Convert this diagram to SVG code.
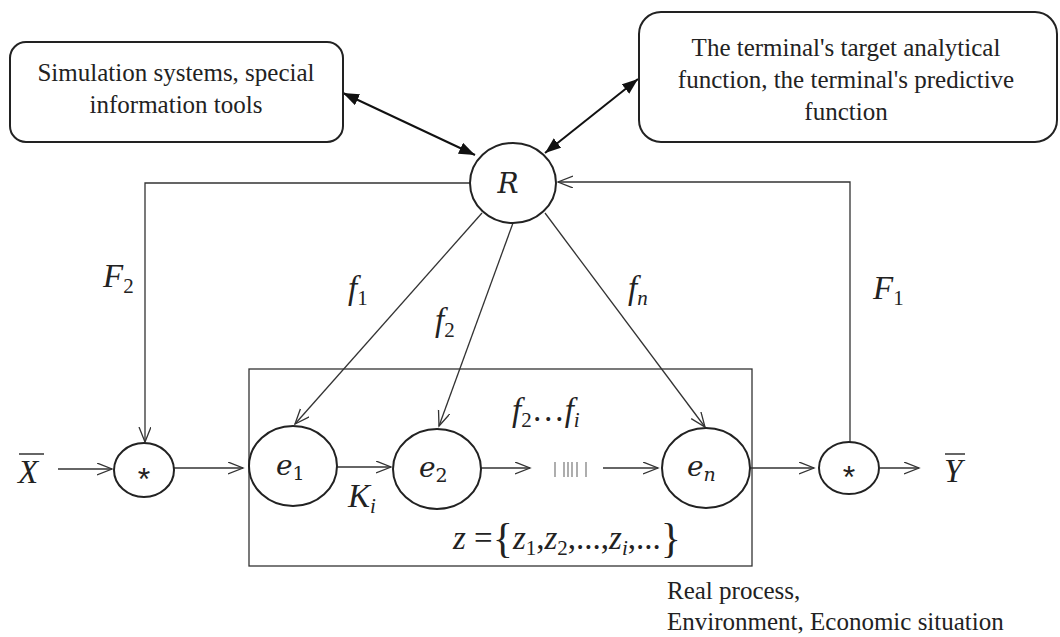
<svg xmlns="http://www.w3.org/2000/svg" width="1060" height="637" viewBox="0 0 1060 637">
<defs>
<style>
.box{fill:#fff;stroke:#222;stroke-width:2}
.node{fill:#fff;stroke:#222;stroke-width:2}
.frame{fill:none;stroke:#333;stroke-width:1.3}
.line{fill:none;stroke:#333;stroke-width:1.3}
.bold{fill:none;stroke:#111;stroke-width:2}
.txt{font-family:"Liberation Serif","Times New Roman",serif;font-size:25px;fill:#222}
.math{font-family:"Liberation Serif","Times New Roman",serif;font-size:33px;font-style:italic;fill:#222}
.emath{font-family:"DejaVu Serif",serif;font-size:28px;font-style:italic;fill:#222}
.sub{font-size:21px}
.esub{font-size:19px}
.up{font-style:normal}
.star{font-family:"Liberation Sans",Arial,sans-serif;font-size:32px;fill:#222}
</style>
<marker id="open" markerUnits="userSpaceOnUse" markerWidth="18" markerHeight="14" refX="15" refY="6" orient="auto">
<path d="M0,0 L15,6 L0,12" fill="none" stroke="#333" stroke-width="1.3"/>
</marker>
<marker id="solid" markerUnits="userSpaceOnUse" markerWidth="18" markerHeight="14" refX="16" refY="6" orient="auto-start-reverse">
<path d="M0,0 L16,6 L0,12 Z" fill="#111"/>
</marker>
</defs>
<rect width="1060" height="637" fill="#fff"/>

<g id="connectors">
<line class="bold" x1="343" y1="93" x2="475" y2="155" marker-start="url(#solid)" marker-end="url(#solid)"/>
<line class="bold" x1="638" y1="79" x2="545" y2="153" marker-start="url(#solid)" marker-end="url(#solid)"/>
<polyline class="line" points="470,183 145,183 145,442" marker-end="url(#open)"/>
<polyline class="line" points="850,442 850,182 558,182" marker-end="url(#open)"/>
<line class="line" x1="482" y1="213" x2="295" y2="424" marker-end="url(#open)"/>
<line class="line" x1="513" y1="223" x2="439" y2="426" marker-end="url(#open)"/>
<line class="line" x1="545" y1="213" x2="705" y2="427" marker-end="url(#open)"/>
<line class="line" x1="58" y1="469" x2="112" y2="469" marker-end="url(#open)"/>
<line class="line" x1="174" y1="468" x2="243" y2="468" marker-end="url(#open)"/>
<line class="line" x1="337" y1="467" x2="391" y2="467" marker-end="url(#open)"/>
<line class="line" x1="481" y1="468" x2="530" y2="468" marker-end="url(#open)"/>
<line class="line" x1="603" y1="468" x2="658" y2="468" marker-end="url(#open)"/>
<line class="line" x1="750" y1="468" x2="814" y2="468" marker-end="url(#open)"/>
<line class="line" x1="880" y1="468" x2="919" y2="468" marker-end="url(#open)"/>
<g stroke="#777" stroke-width="1.2">
<line x1="555" y1="462" x2="555" y2="477"/>
<line x1="564" y1="462" x2="564" y2="477"/>
<line x1="568" y1="462" x2="568" y2="477"/>
<line x1="572" y1="462" x2="572" y2="477"/>
<line x1="577" y1="462" x2="577" y2="477"/>
<line x1="586" y1="462" x2="586" y2="477"/>
</g>
</g>

<g id="frame">
<rect class="frame" x="249" y="369" width="503" height="197"/>
</g>

<g id="box-sim">
<rect class="box" x="10" y="42" width="333" height="100" rx="16"/>
<text class="txt" x="176" y="81" text-anchor="middle">Simulation systems, special</text>
<text class="txt" x="176" y="113" text-anchor="middle">information tools</text>
</g>

<g id="box-terminal">
<rect class="box" x="639" y="12" width="418" height="130" rx="22"/>
<text class="txt" x="846" y="56" text-anchor="middle" font-size="26">The terminal's target analytical</text>
<text class="txt" x="846" y="88" text-anchor="middle" font-size="26">function, the terminal's predictive</text>
<text class="txt" x="846" y="120" text-anchor="middle" font-size="26">function</text>
</g>

<g id="node-R">
<ellipse class="node" cx="513" cy="183" rx="43" ry="40"/>
<text class="emath" x="508" y="193" text-anchor="middle" font-size="30">R</text>
</g>

<g id="node-star-in">
<ellipse class="node" cx="144" cy="470" rx="30" ry="27"/>
<text class="star" x="144" y="490" text-anchor="middle">*</text>
</g>

<g id="node-e1">
<ellipse class="node" cx="293" cy="466" rx="44" ry="40"/>
<text class="emath" x="276" y="475">e<tspan class="esub up" dy="5">1</tspan></text>
</g>

<g id="node-e2">
<ellipse class="node" cx="437" cy="469" rx="44" ry="40"/>
<text class="emath" x="419" y="477">e<tspan class="esub up" dy="5">2</tspan></text>
</g>

<g id="node-en">
<ellipse class="node" cx="706" cy="468" rx="44" ry="40"/>
<text class="emath" x="687" y="476">e<tspan class="esub" dy="5">n</tspan></text>
</g>

<g id="node-star-out">
<ellipse class="node" cx="849" cy="468" rx="30" ry="26"/>
<text class="star" x="849" y="488" text-anchor="middle">*</text>
</g>

<g id="labels">
<text class="math" x="18" y="483">X</text>
<line x1="19" y1="454" x2="44" y2="454" stroke="#333" stroke-width="1.5"/>
<text class="math" x="944" y="482">Y</text>
<line x1="945" y1="454" x2="965" y2="454" stroke="#333" stroke-width="1.5"/>
<text class="math" x="103" y="287">F<tspan class="sub up" dy="6">2</tspan></text>
<text class="math" x="873" y="299">F<tspan class="sub up" dy="6">1</tspan></text>
<text class="math" x="348" y="299">f<tspan class="sub up" dy="6">1</tspan></text>
<text class="math" x="435" y="331">f<tspan class="sub up" dy="6">2</tspan></text>
<text class="math" x="628" y="299">f<tspan class="sub" dy="6">n</tspan></text>
<text class="math" x="512" y="421">f<tspan class="sub up" dy="6">2</tspan><tspan class="up" dy="-6">…</tspan>f<tspan class="sub" dy="6">i</tspan></text>
<text class="math" x="348" y="507">K<tspan class="sub" dy="6">i</tspan></text>
<text class="math" x="453" y="549">z<tspan class="up"> =</tspan><tspan class="up" font-size="42" dy="3">{</tspan><tspan dy="-3">z</tspan><tspan class="sub up" dy="6">1</tspan><tspan class="up" dy="-6">,</tspan>z<tspan class="sub up" dy="6">2</tspan><tspan class="up" dy="-6">,...,</tspan>z<tspan class="sub" dy="6">i</tspan><tspan class="up" dy="-6">,...</tspan><tspan class="up" font-size="42" dy="3">}</tspan></text>
<text class="txt" x="667" y="599">Real process,</text>
<text class="txt" x="667" y="630">Environment, Economic situation</text>
</g>
</svg>
